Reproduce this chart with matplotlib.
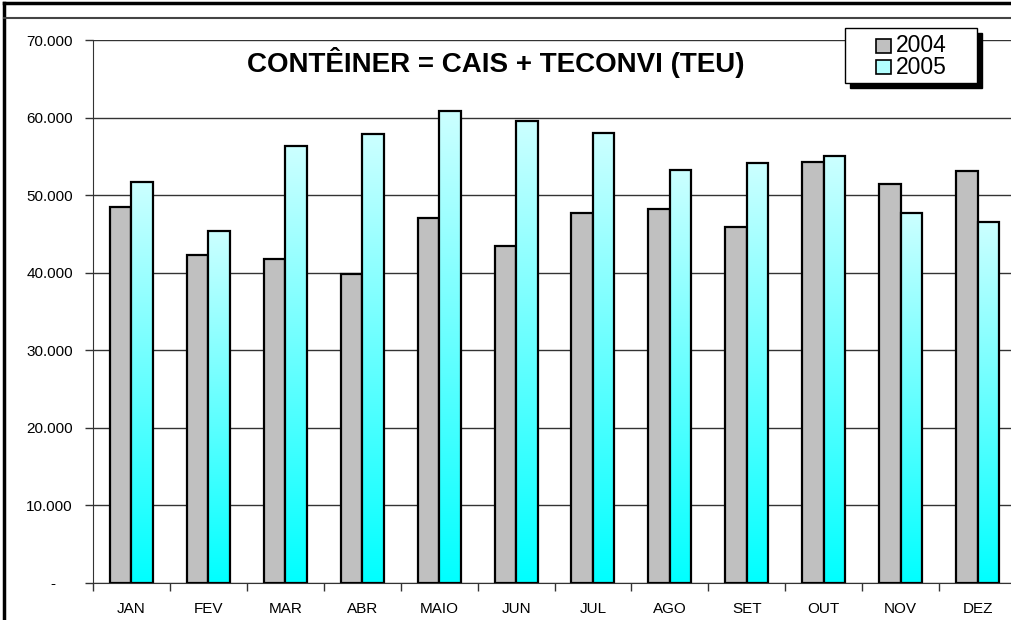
import numpy as np
import matplotlib
matplotlib.use("Agg")
import matplotlib.pyplot as plt
from matplotlib.patches import Rectangle
from matplotlib.lines import Line2D
from matplotlib.colors import LinearSegmentedColormap

plt.rcParams['font.family'] = ['Liberation Sans', 'DejaVu Sans']

# data (TEU)
meses = ['JAN', 'FEV', 'MAR', 'ABR', 'MAIO', 'JUN',
         'JUL', 'AGO', 'SET', 'OUT', 'NOV', 'DEZ']
teu_2004 = [48500, 42300, 41800, 39800, 47100, 43400,
            47700, 48200, 45900, 54300, 51400, 53100]
teu_2005 = [51700, 45400, 56300, 57900, 60800, 59600,
            58000, 53300, 54200, 55000, 47700, 46500]
anos = ['2004', '2005']

W, H = 1012, 620
fig = plt.figure(figsize=(W/100, H/100), dpi=100)
ax = fig.add_axes([93/W, 1-583/H, 923/W, 543/H])

x = np.arange(len(meses))
w = 0.28

# 2004 bars - plain gray
ax.bar(x - w/2, teu_2004, w, color='#c0c0c0', edgecolor='black',
       linewidth=1.6, zorder=3)

# 2005 bars - cyan gradient (light at top, cyan at bottom)
cmap = LinearSegmentedColormap.from_list('cy', ['#00ffff', '#ccffff'])
grad = np.linspace(0, 1, 256).reshape(-1, 1)
for xi, v in zip(x, teu_2005):
    x0 = xi
    ax.imshow(grad, extent=[x0, x0 + w, 0, v], origin='lower', cmap=cmap,
              aspect='auto', zorder=3)
    ax.add_patch(Rectangle((x0, 0), w, v, fill=False, edgecolor='black',
                           linewidth=1.6, zorder=4))

ax.set_xlim(-0.5, 11.5)
ax.set_ylim(0, 70000)
ax.set_aspect('auto')

# y axis (zero shown as accounting dash)
yt = np.arange(0, 70001, 10000)
ax.set_yticks(yt)
ax.set_yticklabels(['-    '] + ['{:,}'.format(v).replace(',', '.') for v in yt[1:]],
                   fontsize=11)
ax.yaxis.grid(True, color='#333333', linewidth=1, zorder=0)
ax.tick_params(axis='y', length=6, width=1, color='#333333', pad=8.5)

# x axis: ticks at boundaries, labels centered
ax.set_xticks(np.arange(-0.5, 12, 1))
ax.set_xticklabels([])
ax.set_xticks(x, minor=True)
ax.set_xticklabels(meses, minor=True, fontsize=11)
ax.tick_params(axis='x', which='major', length=6, width=1, color='#333333')
ax.tick_params(axis='x', which='minor', length=0, pad=14)

ax.spines['top'].set_visible(False)
ax.spines['right'].set_visible(False)
ax.spines['left'].set_color('#333333')
ax.spines['bottom'].set_color('#333333')

# title
fig.text(496/W, 1-62/H, 'CONTÊINER = CAIS + TECONVI (TEU)', ha='center',
         va='center', fontsize=20, fontweight='bold')

# legend box drawn by hand (shadow + frame + keys)
def px(x0, y0, x1, y1):
    return (x0/W, 1-y1/H), (x1-x0)/W, (y1-y0)/H

xy, bw, bh = px(850, 33, 982, 88)
fig.add_artist(Rectangle(xy, bw, bh, transform=fig.transFigure,
                         facecolor='black', edgecolor='black', zorder=5))
xy, bw, bh = px(845, 28, 977, 83)
fig.add_artist(Rectangle(xy, bw, bh, transform=fig.transFigure,
                         facecolor='white', edgecolor='black', lw=1, zorder=6))
cores = ['#c0c0c0', '#b3ffff']
for i, (ano, cor) in enumerate(zip(anos, cores)):
    yc = 46 + 21*i
    xy, bw, bh = px(876, yc-7, 891, yc+7)
    fig.add_artist(Rectangle(xy, bw, bh, transform=fig.transFigure,
                             facecolor=cor, edgecolor='black', lw=1.2, zorder=7))
    fig.text(896/W, 1-yc/H, ano, fontsize=16.5, ha='left', va='center',
             zorder=7)

# outer frame lines
fig.add_artist(Line2D([4/W, 4/W], [0, 1-3/H], color='black',
                      linewidth=2.5, transform=fig.transFigure))
fig.add_artist(Line2D([4/W, 1], [1-3/H, 1-3/H], color='black',
                      linewidth=2.5, transform=fig.transFigure))
fig.add_artist(Line2D([4/W, 1], [1-18/H, 1-18/H], color='#444444',
                      linewidth=1.5, transform=fig.transFigure))

fig.savefig('out.png', dpi=100)
